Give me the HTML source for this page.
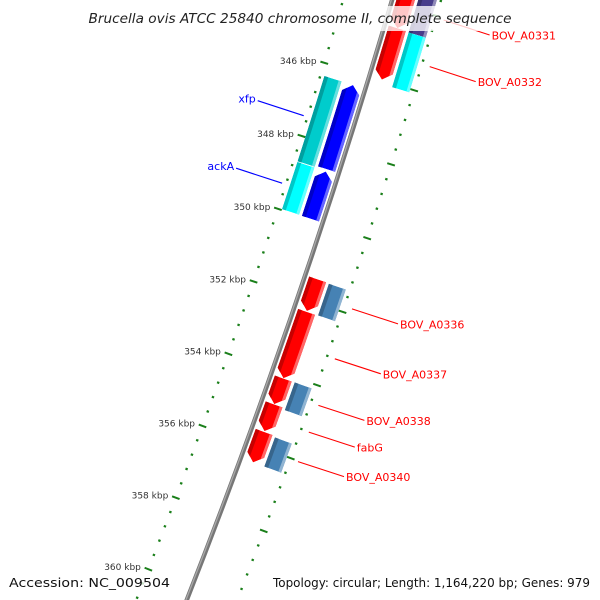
<!DOCTYPE html>
<html><head><meta charset="utf-8"><style>
html,body{margin:0;padding:0;background:#fff;width:600px;height:600px;overflow:hidden;}
svg{display:block;font-family:"DejaVu Sans","Liberation Sans",sans-serif;}
</style></head><body>
<svg id="map" width="600" height="600" viewBox="0 0 600 600" xmlns="http://www.w3.org/2000/svg">
<defs id="defs"></defs>
<g id="ticks"></g>
<g id="backbone"></g>
<g id="features"></g>
<g id="labels"></g>
<rect x="84" y="6" width="432" height="25" fill="#fff" opacity="0.78"/>
<text x="300" y="23" text-anchor="middle" font-style="italic" font-size="13.5" fill="#222" textLength="423" lengthAdjust="spacingAndGlyphs">Brucella ovis ATCC 25840 chromosome II, complete sequence</text>
<rect x="4" y="572" width="170" height="22" fill="#fff" opacity="0.75"/>
<text x="9" y="587" font-size="12.5" fill="#111" textLength="161" lengthAdjust="spacingAndGlyphs">Accession: NC_009504</text>
<rect x="268" y="572" width="328" height="22" fill="#fff" opacity="0.75"/>
<text x="590" y="587" font-size="12.5" fill="#111" text-anchor="end" textLength="317" lengthAdjust="spacingAndGlyphs">Topology: circular; Length: 1,164,220 bp; Genes: 979</text>
</svg>
<script>
const genomeLength = 1164220;
const tickStartKbp = 342;
const tickEndKbp = 362;
const majorTickKbp = 2;
const minorTickKbp = 0.4;
const featNames = ["BOV_A0331","BOV_A0331-cog","BOV_A0332","BOV_A0332-cog","xfp","xfp-cog","ackA","ackA-cog","BOV_A0336","BOV_A0336-cog","BOV_A0337","BOV_A0338","BOV_A0338-cog","fabG","BOV_A0340","BOV_A0340-cog"];
const featStart = [343500,343500,344590,344615,346335,346330,348690,348680,351412,351427,352300,354130,354125,354840,355600,355637];
const featEnd   = [344590,344615,345980,346090,348625,348660,349980,349975,352277,352292,354121,354832,354888,355576,356437,356437];
const featStrand= [1,0,1,0,-1,0,-1,0,1,0,1,1,0,1,1,0];
const featSlot  = [1,2,1,2,-1,-2,-1,-2,1,2,1,1,2,1,1,2];
const featColor = ["#ff0000","#483d8b","#ff0000","#00ffff","#0000ff","#00cccc","#0000ff","#00ffff","#ff0000","#4682b4","#ff0000","#ff0000","#4682b4","#ff0000","#ff0000","#4682b4"];
const labelText = ["BOV_A0331","BOV_A0332","xfp","ackA","BOV_A0336","BOV_A0337","BOV_A0338","fabG","BOV_A0340"];
const labelSide = [1,1,-1,-1,1,1,1,1,1];
const labelBp   = [344050,345300,347480,349330,351850,353210,354480,355210,356020];

const NS="http://www.w3.org/2000/svg";
const CX=-6463, CY=-2011, R=7144;
function ang(bp){return 2*Math.PI*bp/genomeLength - Math.PI/2;}
function pt(bp,r){const a=ang(bp);return [CX+r*Math.cos(a), CY+r*Math.sin(a)];}
function ptA(a,r){return [CX+r*Math.cos(a), CY+r*Math.sin(a)];}
function f(p){return p[0].toFixed(2)+" "+p[1].toFixed(2);}
function mk(tag,attrs,parent){const e=document.createElementNS(NS,tag);for(const k in attrs)e.setAttribute(k,attrs[k]);parent.appendChild(e);return e;}

const bb=document.getElementById('backbone');
{
  const a0=ang(340000), a1=ang(361500);
  const d=r=>"M"+f(ptA(a0,r))+" A"+r+" "+r+" 0 0 1 "+f(ptA(a1,r));
  const p1=mk('path',{d:d(R),fill:"none",stroke:"#777",'stroke-width':4.5},bb);
  
  
  const p2=mk('path',{d:d(R-0.8),fill:"none",stroke:"#a8a8a8",'stroke-width':1.3},bb);
  
  
}

const tg=document.getElementById('ticks');
const ringR=[R-47,R+47];
for(let ri=0;ri<2;ri++){
  const n=Math.round((tickEndKbp-tickStartKbp)/minorTickKbp);
  for(let i=0;i<=n;i++){
    const kbp=tickStartKbp+i*minorTickKbp;
    const bp=kbp*1000;
    const major=Math.abs(kbp/majorTickKbp-Math.round(kbp/majorTickKbp))<1e-6;
    const half=major?4:1.2;
    const l=mk('line',{},tg);
    const p0=pt(bp,ringR[ri]-half), p1=pt(bp,ringR[ri]+half);
    l.setAttribute('x1',p0[0]);l.setAttribute('y1',p0[1]);l.setAttribute('x2',p1[0]);l.setAttribute('y2',p1[1]);
    l.setAttribute('stroke','#1a7f1a');l.setAttribute('stroke-width',major?2:2.2);
    
    
    if(major&&ri===0){
      const lp=pt(bp,ringR[0]-8);
      const t=mk('text',{x:lp[0].toFixed(1),y:(lp[1]+3.5).toFixed(1),'text-anchor':'end','font-size':9,fill:'#333'},tg);
      t.textContent=Math.round(kbp)+" kbp";
      
      
    }
  }
}

const fg=document.getElementById('features');
const defs=document.getElementById('defs');
const slotR={1:[R+4,R+22],2:[R+25,R+43],"-1":[R-22,R-4],"-2":[R-43,R-25]};
function shade(hex,k){
  const n=parseInt(hex.slice(1),16);let r=n>>16,g=(n>>8)&255,b=n&255;
  if(k<0){r*=1+k;g*=1+k;b*=1+k;}else{r+=(255-r)*k;g+=(255-g)*k;b+=(255-b)*k;}
  return "rgb("+Math.round(r)+","+Math.round(g)+","+Math.round(b)+")";
}
for(let i=0;i<featNames.length;i++){
  const [r0,r1]=slotR[featSlot[i]];
  const rm=(r0+r1)/2;
  let a0=ang(featStart[i]), a1=ang(featEnd[i]);
  const head=8/rm;
  let d;
  if(featStrand[i]===1){
    const ah=a1-head;
    d="M"+f(ptA(a0,r0))+" A"+r0+" "+r0+" 0 0 1 "+f(ptA(ah,r0))+" L"+f(ptA(a1,rm))+" L"+f(ptA(ah,r1))+" A"+r1+" "+r1+" 0 0 0 "+f(ptA(a0,r1))+" Z";
  }else if(featStrand[i]===-1){
    const ah=a0+head;
    d="M"+f(ptA(a0,rm))+" L"+f(ptA(ah,r0))+" A"+r0+" "+r0+" 0 0 1 "+f(ptA(a1,r0))+" L"+f(ptA(a1,r1))+" A"+r1+" "+r1+" 0 0 0 "+f(ptA(ah,r1))+" Z";
  }else{
    d="M"+f(ptA(a0,r0))+" A"+r0+" "+r0+" 0 0 1 "+f(ptA(a1,r0))+" L"+f(ptA(a1,r1))+" A"+r1+" "+r1+" 0 0 0 "+f(ptA(a0,r1))+" Z";
  }
  const cp=mk('clipPath',{id:'cp'+i},defs);
  mk('path',{d:d},cp);
  const g=mk('g',{'clip-path':'url(#cp'+i+')'},fg);
  
  
  mk('path',{d:d,fill:featColor[i]},g);
  const band=(ra,rb,col)=>{
    const b0=a0-0.01,b1=a1+0.01;
    mk('path',{d:"M"+f(ptA(b0,ra))+" A"+ra+" "+ra+" 0 0 1 "+f(ptA(b1,ra))+" L"+f(ptA(b1,rb))+" A"+rb+" "+rb+" 0 0 0 "+f(ptA(b0,rb))+" Z",fill:col},g);
  };
  band(r0,r0+4,shade(featColor[i],-0.22));
  band(r1-3,r1,shade(featColor[i],0.4));
}

const lg=document.getElementById('labels');
for(let i=0;i<labelText.length;i++){
  const side=labelSide[i];
  const col=side>0?"#ff0000":"#0000ff";
  const bp=labelBp[i];
  const p0=side>0?pt(bp,R+55):pt(bp,R-51);
  const p1=[p0[0]+(side>0?46:-46), p0[1]+(side>0?15:-15)];
  const l=mk('line',{x1:p0[0].toFixed(1),y1:p0[1].toFixed(1),x2:p1[0].toFixed(1),y2:p1[1].toFixed(1),stroke:col,'stroke-width':1.1},lg);
  
  
  const t=mk('text',{x:(p1[0]+(side>0?2:-2)).toFixed(1),y:(p1[1]+(side>0?4.5:2)).toFixed(1),'text-anchor':side>0?'start':'end','font-size':11,fill:col},lg);
  t.textContent=labelText[i];
  
  
}
</script>
</body></html>
